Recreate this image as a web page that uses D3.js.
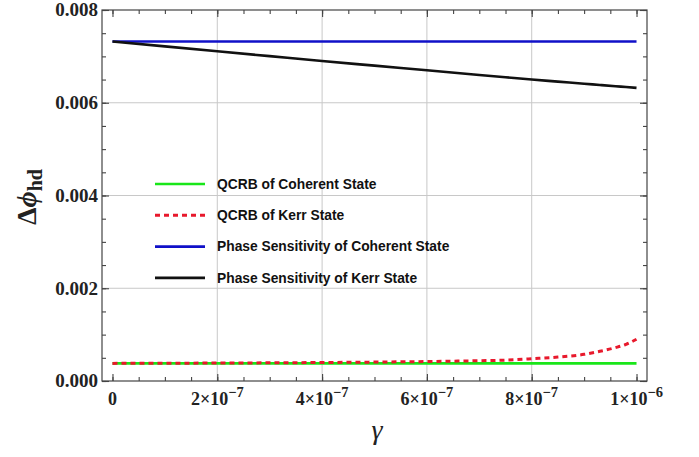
<!DOCTYPE html>
<html>
<head>
<meta charset="utf-8">
<script src="https://cdn.jsdelivr.net/npm/d3@7/dist/d3.min.js"></script>
<style>
  html, body { margin: 0; padding: 0; background: #fff; }
  svg { display: block; }
</style>
</head>
<body>
<svg id="chart" width="699" height="457"></svg>
<script>
// Kerr-nonlinearity parameter values (x) and the four sensitivity curves
const gammaVals = [0, 1e-7, 2e-7, 3e-7, 4e-7, 5e-7, 6e-7, 7e-7, 7.5e-7, 8e-7, 8.5e-7, 9e-7, 9.3e-7, 9.6e-7, 9.8e-7, 1e-6];
const qcrbCoherent = [0.00038, 0.00038, 0.00038, 0.00038, 0.00038, 0.00038, 0.00038, 0.00038, 0.00038, 0.00038, 0.00038, 0.00038, 0.00038, 0.00038, 0.00038, 0.00038];
const qcrbKerr = [0.000380, 0.000383, 0.000387, 0.000392, 0.000399, 0.000408, 0.000420, 0.000437, 0.000450, 0.000480, 0.000515, 0.000575, 0.000640, 0.000720, 0.000790, 0.000900];
const phaseCoherent = [0.00732, 0.00732, 0.00732, 0.00732, 0.00732, 0.00732, 0.00732, 0.00732, 0.00732, 0.00732, 0.00732, 0.00732, 0.00732, 0.00732, 0.00732, 0.00732];
const phaseKerr = [0.00732, 0.007215, 0.00711, 0.007005, 0.00690, 0.00680, 0.00670, 0.00660, 0.00655, 0.00650, 0.006455, 0.00641, 0.006383, 0.006356, 0.006338, 0.00632];

const seriesNames = ["QCRB of Coherent State", "QCRB of Kerr State", "Phase Sensitivity of Coherent State", "Phase Sensitivity of Kerr State"];
const seriesColors = ["#19e619", "#e8192c", "#1010c8", "#111111"];
const seriesDash = [null, "5,4", null, null];

const xMajorTicks = [0, 2e-7, 4e-7, 6e-7, 8e-7, 1e-6];
const xTickMantissa = ["0", "2", "4", "6", "8", "1"];
const xTickExponent = [null, "\u22127", "\u22127", "\u22127", "\u22127", "\u22126"];
const yMajorTicks = [0, 0.002, 0.004, 0.006, 0.008];
const yTickLabels = ["0.000", "0.002", "0.004", "0.006", "0.008"];

const svg = d3.select("#chart");
const plotL = 102, plotR = 647, plotT = 10, plotB = 381;

const x = d3.scaleLinear().domain([-0.02e-6, 1.02e-6]).range([plotL, plotR]);
const y = d3.scaleLinear().domain([0, 0.008]).range([plotB, plotT]);

// grid lines
const grid = svg.append("g").attr("stroke", "#c8c8c8").attr("stroke-width", 1);
[2e-7, 4e-7, 6e-7, 8e-7].forEach(v => {
  grid.append("line").attr("x1", x(v)).attr("x2", x(v)).attr("y1", plotT).attr("y2", plotB);
});
[0.002, 0.004, 0.006].forEach(v => {
  grid.append("line").attr("x1", plotL).attr("x2", plotR).attr("y1", y(v)).attr("y2", y(v));
});

// curves
const allSeries = [qcrbCoherent, qcrbKerr, phaseCoherent, phaseKerr];
const line = d3.line().x(d => x(d[0])).y(d => y(d[1])).curve(d3.curveMonotoneX);
const drawOrder = [2, 3, 0, 1];
drawOrder.forEach(i => {
  const pts = gammaVals.map((g, k) => [g, allSeries[i][k]]);
  svg.append("path")
    .datum(pts)
    .attr("d", line)
    .attr("fill", "none")
    .attr("stroke", seriesColors[i])
    .attr("stroke-width", i === 1 ? 3 : 2.6)
    .attr("stroke-dasharray", seriesDash[i]);
});

// frame
const frameColor = "#444";
svg.append("rect").attr("x", plotL).attr("y", plotT).attr("width", plotR - plotL).attr("height", plotB - plotT)
  .attr("fill", "none").attr("stroke", frameColor).attr("stroke-width", 1.2);

// inward ticks via axes
const xMinor = d3.range(0, 1.0000001e-6, 0.5e-7);
const yMinor = d3.range(0, 0.0080001, 0.0005);
function styleTicks(g) {
  g.select(".domain").remove();
  g.selectAll("text").remove();
  g.selectAll("line").attr("stroke", frameColor).attr("stroke-width", 1.1);
}
svg.append("g").attr("transform", `translate(0,${plotB})`)
  .call(d3.axisTop(x).tickValues(xMinor).tickSize(4)).call(styleTicks);
svg.append("g").attr("transform", `translate(0,${plotB})`)
  .call(d3.axisTop(x).tickValues(xMajorTicks).tickSize(7)).call(styleTicks);
svg.append("g").attr("transform", `translate(0,${plotT})`)
  .call(d3.axisBottom(x).tickValues(xMinor).tickSize(4)).call(styleTicks);
svg.append("g").attr("transform", `translate(0,${plotT})`)
  .call(d3.axisBottom(x).tickValues(xMajorTicks).tickSize(7)).call(styleTicks);
svg.append("g").attr("transform", `translate(${plotL},0)`)
  .call(d3.axisRight(y).tickValues(yMinor).tickSize(4)).call(styleTicks);
svg.append("g").attr("transform", `translate(${plotL},0)`)
  .call(d3.axisRight(y).tickValues(yMajorTicks).tickSize(7)).call(styleTicks);
svg.append("g").attr("transform", `translate(${plotR},0)`)
  .call(d3.axisLeft(y).tickValues(yMinor).tickSize(4)).call(styleTicks);
svg.append("g").attr("transform", `translate(${plotR},0)`)
  .call(d3.axisLeft(y).tickValues(yMajorTicks).tickSize(7)).call(styleTicks);

// tick labels
const tickFont = "'Liberation Serif', 'Times New Roman', serif";
yMajorTicks.forEach((v, i) => {
  svg.append("text").attr("x", plotL - 4).attr("y", y(v)).attr("dy", "0.34em")
    .attr("text-anchor", "end").attr("font-family", tickFont).attr("font-weight", "bold")
    .attr("font-size", 19).attr("fill", "#222").text(yTickLabels[i]);
});
xMajorTicks.forEach((v, i) => {
  const t = svg.append("text").attr("x", x(v)).attr("y", 405)
    .attr("text-anchor", "middle").attr("font-family", tickFont).attr("font-weight", "bold")
    .attr("font-size", 18).attr("fill", "#222");
  if (xTickExponent[i]) {
    t.append("tspan").text(xTickMantissa[i] + "\u00d710");
    t.append("tspan").attr("dy", -8).attr("font-size", 14.5).text(xTickExponent[i]);
  } else {
    t.text(xTickMantissa[i]);
  }
});

// axis titles
const yt = svg.append("text").attr("transform", "translate(36,197) rotate(-90)")
  .attr("text-anchor", "middle").attr("font-family", tickFont).attr("font-weight", "bold")
  .attr("font-size", 28).attr("fill", "#222");
yt.append("tspan").text("\u0394");
yt.append("tspan").attr("font-style", "italic").text("\u03d5");
yt.append("tspan").attr("dy", 6).attr("font-size", 20).text("hd");

svg.append("text").attr("x", 377).attr("y", 439).attr("text-anchor", "middle")
  .attr("font-family", tickFont).attr("font-style", "italic").attr("font-size", 28)
  .attr("fill", "#222").text("\u03b3");

// legend
const legend = svg.append("g").attr("transform", "translate(155,184)");
seriesNames.forEach((name, i) => {
  const row = legend.append("g").attr("transform", `translate(0,${i * 31.3})`);
  row.append("line").attr("x1", 0).attr("x2", 50).attr("y1", 0).attr("y2", 0)
    .attr("stroke", seriesColors[i]).attr("stroke-width", i === 1 ? 3 : 2.6)
    .attr("stroke-dasharray", seriesDash[i]);
  row.append("text").attr("x", 62).attr("y", 0).attr("dy", "0.35em")
    .attr("font-family", "'Liberation Sans', Arial, sans-serif").attr("font-weight", "bold")
    .attr("font-size", 13.8).attr("fill", "#111").text(name);
});
</script>
</body>
</html>
